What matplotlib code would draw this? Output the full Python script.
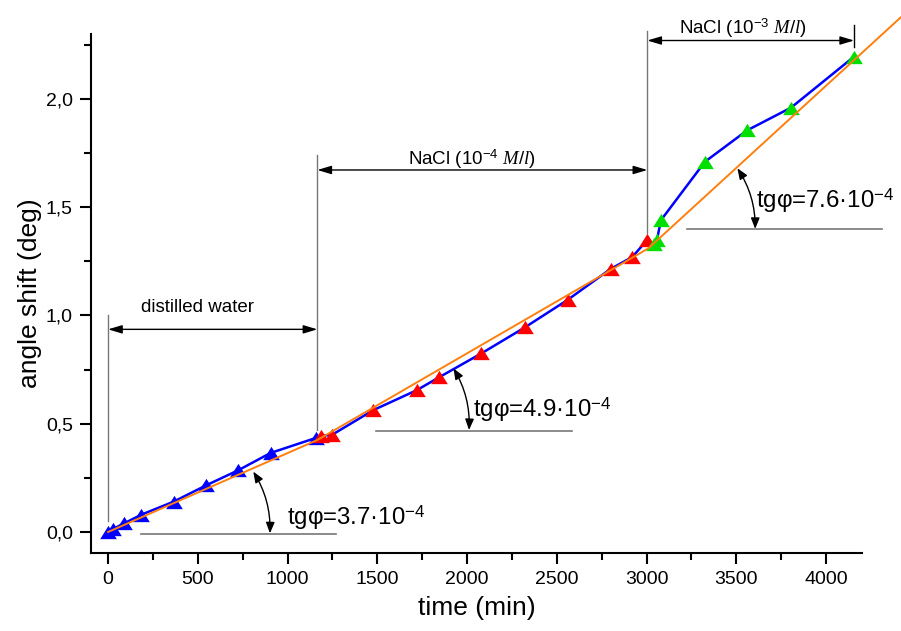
import matplotlib.pyplot as plt
from matplotlib.ticker import MultipleLocator, FuncFormatter

plt.rcParams['font.family'] = ['Liberation Sans', 'DejaVu Sans']
plt.rcParams['mathtext.fontset'] = 'custom'
plt.rcParams['mathtext.rm'] = 'Liberation Sans'
plt.rcParams['mathtext.it'] = 'Liberation Serif:italic'

# measured points (time in min, angle shift in deg)
water_t = [0, 30, 90, 185, 365, 545, 725, 905, 1160]
water_y = [0.0, 0.015, 0.04, 0.08, 0.14, 0.215, 0.285, 0.365, 0.435]
nacl4_t = [1185, 1246, 1478, 1720, 1845, 2080, 2322, 2560, 2800, 2920, 3005]
nacl4_y = [0.445, 0.448, 0.563, 0.655, 0.715, 0.825, 0.945, 1.072, 1.215, 1.27, 1.35]
nacl3_t = [3040, 3058, 3080, 3325, 3560, 3805, 4155]
nacl3_y = [1.33, 1.35, 1.44, 1.71, 1.855, 1.96, 2.195]

# piecewise linear fit
fit_t = [0, 1166, 3010, 4420]
fit_y = [0.0, 0.425, 1.31, 2.38]

# region borders
bounds_t = [0, 1166, 3004, 4156]

fig = plt.figure(figsize=(9.01, 6.31), dpi=100)
ax = fig.add_axes([0.101, 0.1236, 0.8557, 0.8225])

tri = [(-1, -0.8), (1, -0.8), (0, 0.8), (-1, -0.8)]
all_t = water_t + nacl4_t + nacl3_t
all_y = water_y + nacl4_y + nacl3_y
ax.plot(all_t, all_y, color='#0000ff', lw=1.8, zorder=3)
ax.plot(water_t, water_y, ls='none', marker=tri, color='#0000ff', ms=12, mec='none', zorder=4)
ax.plot(nacl4_t, nacl4_y, ls='none', marker=tri, color='#ff0000', ms=12, mec='none', zorder=4)
ax.plot(nacl3_t, nacl3_y, ls='none', marker=tri, color='#00e000', ms=12, mec='none', zorder=4)
ax.plot(fit_t, fit_y, color='#ff7f0e', lw=1.4, zorder=5, clip_on=False)

# vertical guide lines
gray = '#777777'
ax.plot([bounds_t[0]] * 2, [0.05, 1.0], color=gray, lw=1)
ax.plot([bounds_t[1]] * 2, [0.47, 1.74], color=gray, lw=1)
ax.plot([bounds_t[2]] * 2, [1.38, 2.315], color=gray, lw=1, clip_on=False)
ax.plot([bounds_t[3]] * 2, [2.24, 2.34], color='black', lw=1, clip_on=False)

# double arrows for the regions
astyle = '<|-|>,head_length=0.6,head_width=0.18'
def span(x0, x1, y):
    ax.annotate('', xy=(x1, y), xytext=(x0, y), annotation_clip=False,
                arrowprops=dict(arrowstyle=astyle, color='black', lw=1,
                                mutation_scale=14, shrinkA=0, shrinkB=0))

span(bounds_t[0], bounds_t[1], 0.936)
span(bounds_t[1], bounds_t[2], 1.672)
span(bounds_t[2], bounds_t[3], 2.27)

ax.text(501, 1.018, 'distilled water', ha='center', va='baseline', fontsize=13.5)
ax.text(2027, 1.695, 'NaCl (10$^{-4}$ $M/l$)', ha='center', va='baseline', fontsize=13.5)
ax.text(3538, 2.30, 'NaCl (10$^{-3}$ $M/l$)', ha='center', va='baseline', fontsize=13.5,
        clip_on=False)

# slope angle marks
def angle(base, top, bottom, label_xy, label):
    ax.plot(base[0], base[1], color=gray, lw=1.2, clip_on=False)
    ax.annotate('', xy=bottom, xytext=top, annotation_clip=False,
                arrowprops=dict(arrowstyle='<|-|>,head_length=0.5,head_width=0.2',
                                color='black', lw=1, mutation_scale=13,
                                shrinkA=0, shrinkB=0,
                                connectionstyle='arc3,rad=-0.15'))
    ax.text(label_xy[0], label_xy[1], label, ha='left', va='baseline', fontsize=17.3)

angle(([184, 1270], [-0.008, -0.008]), (809, 0.279), (902, -0.006),
      (997, 0.032), 'tgφ=3.7·10$^{-4}$')
angle(([1491, 2583], [0.468, 0.468]), (1924, 0.756), (2011, 0.471),
      (2035, 0.533), 'tgφ=4.9·10$^{-4}$')
angle(([3227, 4314], [1.398, 1.398]), (3506, 1.68), (3605, 1.40),
      (3610, 1.495), 'tgφ=7.6·10$^{-4}$')

ax.set_xlim(-95, 4200)
ax.set_ylim(-0.097, 2.30)
ax.spines['top'].set_visible(False)
ax.spines['right'].set_visible(False)
for s in ['left', 'bottom']:
    ax.spines[s].set_linewidth(1.5)

ax.xaxis.set_major_locator(MultipleLocator(500))
ax.xaxis.set_minor_locator(MultipleLocator(250))
ax.yaxis.set_major_locator(MultipleLocator(0.5))
ax.yaxis.set_minor_locator(MultipleLocator(0.25))
ax.yaxis.set_major_formatter(FuncFormatter(lambda v, p: f'{v:.1f}'.replace('.', ',')))
ax.tick_params(which='major', length=8, width=1.5, labelsize=14, pad=5)
ax.tick_params(which='minor', length=5, width=1.5)

ax.set_xlabel('time (min)', fontsize=19, labelpad=6)
ax.set_ylabel('angle shift (deg)', fontsize=19, labelpad=3)

plt.savefig('out.png', dpi=100)
